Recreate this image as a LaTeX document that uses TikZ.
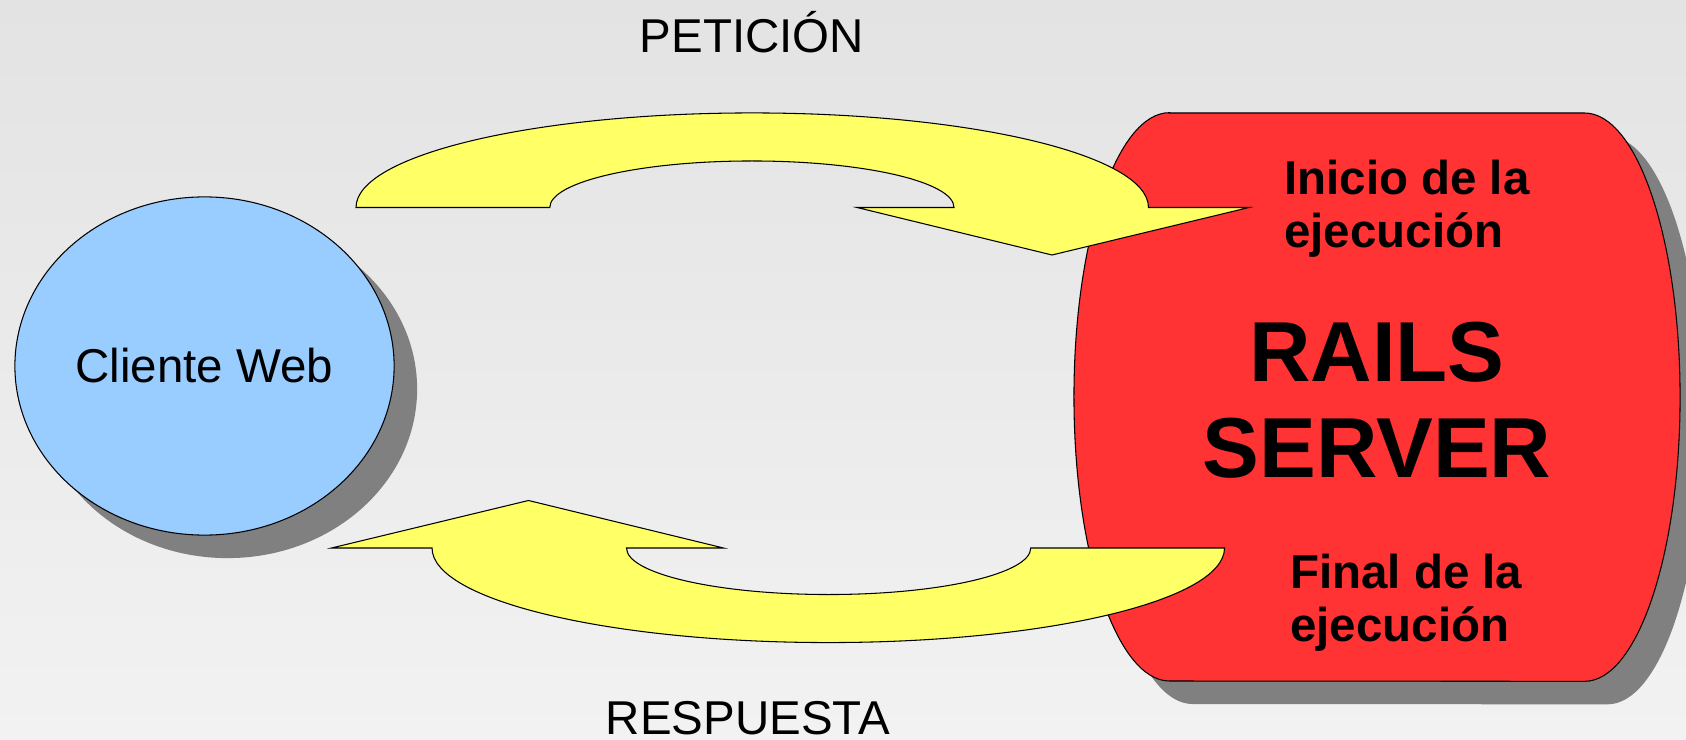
\documentclass[tikz,border=0pt]{standalone}
\usepackage{fontspec}
\setmainfont{Liberation Sans}
\usetikzlibrary{shapes.geometric,shadows}

\definecolor{fondoarriba}{HTML}{E3E3E3}
\definecolor{fondoabajo}{HTML}{F2F2F2}
\definecolor{azulcliente}{HTML}{99CCFF}
\definecolor{rojoserv}{HTML}{FF3333}
\definecolor{amarillo}{HTML}{FFFF66}
\definecolor{sombra}{HTML}{808080}

\begin{document}
\begin{tikzpicture}[
    x=0.01cm, y=-0.01cm,
    sombreado/.style={drop shadow={shadow xshift=0.23cm, shadow yshift=-0.23cm,
                  fill=sombra, opacity=1}},
    clientebox/.style={ellipse, draw, line width=0.3pt, fill=azulcliente,
                  minimum width=3.79cm, minimum height=3.38cm, inner sep=0pt,
                  font=\fontsize{13.5}{15.1}\selectfont, sombreado},
    servidor/.style={draw, line width=0.3pt, fill=rojoserv, sombreado},
    flecha/.style={draw, line width=0.3pt, fill=amarillo},
    etiqueta/.style={inner sep=0pt, font=\fontsize{13.5}{15.1}\selectfont},
    textoserv/.style={inner sep=0pt, align=left,
                  font=\fontsize{13.5}{15.1}\selectfont\bfseries},
    titulo/.style={inner sep=0pt, align=center,
                  font=\fontsize{24.2}{27.3}\selectfont\bfseries}
]
    \useasboundingbox (0,0) rectangle (1686,740);
    \clip (0,0) rectangle (1686,740);
    \shade[top color=fondoarriba, bottom color=fondoabajo] (0,0) rectangle (1686,740);

    % cliente
    \node[clientebox] (cliente) at (204.5,366) {Cliente Web};

    % servidor: lados en media elipse
    \path[servidor] (1169.5,113) -- (1584.5,113)
        arc[start angle=90, end angle=-90, x radius=0.955cm, y radius=2.84cm]
        -- (1169.5,681)
        arc[start angle=270, end angle=90, x radius=0.955cm, y radius=2.84cm]
        -- cycle;

    % flecha de la peticion
    \begin{scope}[shift={(752,207.5)}]
        \draw[flecha] (-396,0)
            arc[start angle=180, end angle=0, x radius=3.96cm, y radius=0.945cm]
            -- (497,0) -- (300,47.5) -- (105,0) -- (202,0)
            arc[start angle=0, end angle=180, x radius=2.02cm, y radius=0.465cm]
            -- cycle;
    \end{scope}

    % flecha de la respuesta (la misma, girada)
    \begin{scope}[shift={(828.5,548)}, rotate=180]
        \draw[flecha] (-396,0)
            arc[start angle=180, end angle=0, x radius=3.96cm, y radius=0.945cm]
            -- (497,0) -- (300,47.5) -- (105,0) -- (202,0)
            arc[start angle=0, end angle=180, x radius=2.02cm, y radius=0.465cm]
            -- cycle;
    \end{scope}

    % textos
    \node[etiqueta, anchor=base] (peticion) at (752,53) {PETICIÓN};
    \node[etiqueta, anchor=base] (respuesta) at (748,734) {RESPUESTA};

    \node[textoserv, anchor=north west] (inicio) at (1283.5,159.3)
        {Inicio de la\\ejecución};
    \node[titulo, anchor=north] (rails) at (1377,321) {RAILS\\SERVER};
    \node[textoserv, anchor=north west] (final) at (1289.5,553.3)
        {Final de la\\ejecución};

\end{tikzpicture}
\end{document}
